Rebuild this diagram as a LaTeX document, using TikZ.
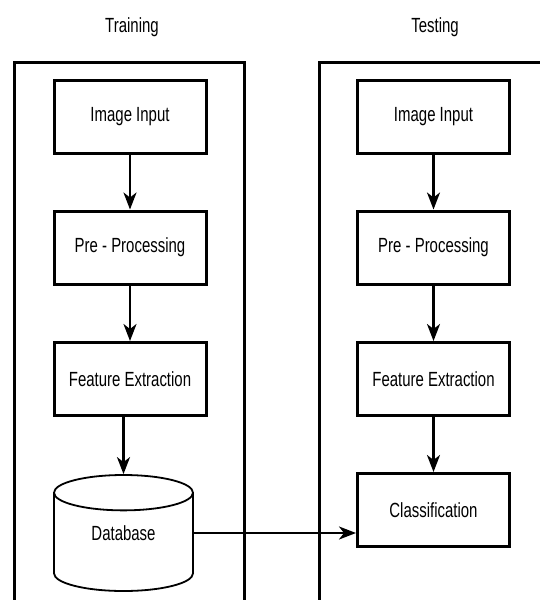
\documentclass[tikz,border=0pt]{standalone}
\usepackage{fontspec}
\setmainfont{Liberation Sans}[FakeStretch=0.73]
\usetikzlibrary{shapes.geometric,arrows.meta}

\begin{document}
\begin{tikzpicture}[
	x=1pt, y=-1pt,
	font=\fontsize{20.5}{24}\selectfont,
	panel/.style={
		rectangle,
		draw,
		line width=3pt,
		minimum width=229.5pt,
		minimum height=600pt,
		anchor=north,
	},
	stage/.style={
		rectangle,
		draw,
		line width=3pt,
		minimum width=152pt,
		minimum height=73pt,
		align=center,
	},
	store/.style={
		cylinder,
		shape border rotate=90,
		aspect=0.5,
		draw,
		line width=1.8pt,
		minimum width=139pt,
		minimum height=116pt,
		anchor=shape center,
	},
	ArrowF/.style={% straight flow arrows
		-{Stealth[length=17pt, width=13pt, inset=5pt]},
		line width=2.4pt,
	},
]

\useasboundingbox (0,0) rectangle (540,600);
\clip (0,0) rectangle (540,600);

\node (train) at (132,27) {Training};
\node (test) at (435,27) {Testing};

\node[panel] (trainbox) at (129.25,61) {};
\node[panel] (testbox) at (433.75,61) {};

% training side
\node[stage] (in1) at (130,116.5) {Image Input};
\node[stage] (pre1) at (130,247.5) {Pre - Processing};
\node[stage] (fe1) at (130,379) {Feature Extraction};
\node[store] (db) at (123.5,533) {\phantom{Database}};
\node (dbtext) at (db.shape center) {Database};

% testing side
\node[stage] (in2) at (433.5,116.5) {Image Input};
\node[stage] (pre2) at (433.5,247.5) {Pre - Processing};
\node[stage] (fe2) at (433.5,379) {Feature Extraction};
\node[stage] (cls) at (433.5,510) {Classification};

\draw[ArrowF] (in1) -- (pre1);
\draw[ArrowF] (pre1) -- (fe1);
\draw[ArrowF] (fe1.south -| db.north) -- (db.north);

\draw[ArrowF] (in2) -- (pre2);
\draw[ArrowF] (pre2) -- (fe2);
\draw[ArrowF] (fe2) -- (cls);

\draw[ArrowF] (db.shape center -| db.east) -- (db.shape center -| cls.west);

\end{tikzpicture}
\end{document}
